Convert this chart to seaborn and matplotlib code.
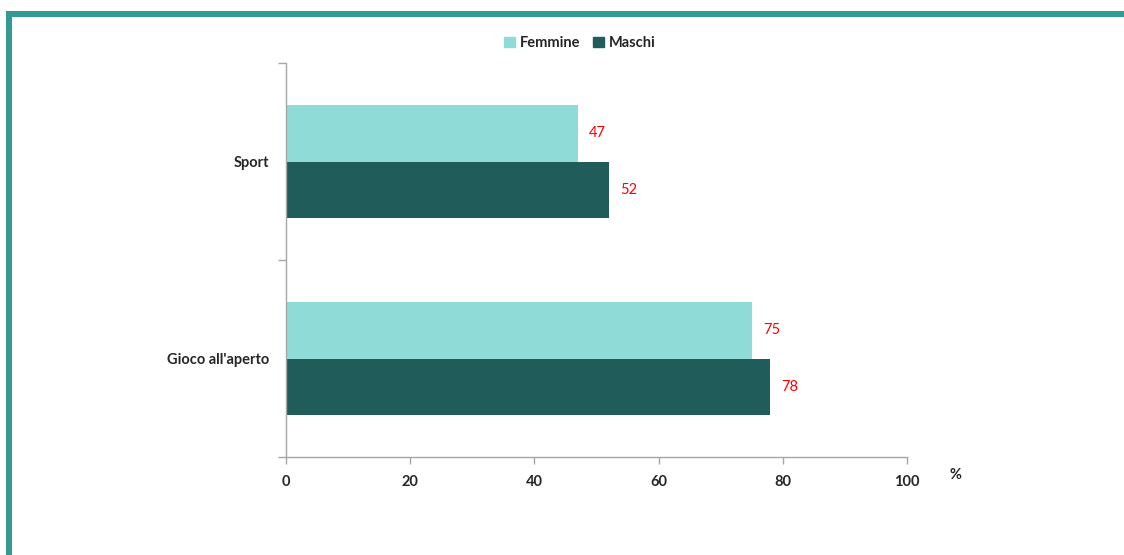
import seaborn as sns
import pandas as pd
import matplotlib.pyplot as plt
import matplotlib.patches as patches

categories = ["Sport", "Gioco all'aperto"]
femmine = [47, 75]
maschi = [52, 78]
series = ["Femmine", "Maschi"]
colors = ["#8fdbd8", "#1f5c5a"]
xticks = [0, 20, 40, 60, 80, 100]

df = pd.DataFrame({
    "cat": categories * 2,
    "val": femmine + maschi,
    "sesso": [series[0]] * 2 + [series[1]] * 2,
})

sns.set_theme(style="white")
plt.rcParams["font.family"] = ["Lato", "DejaVu Sans"]

fig = plt.figure(figsize=(11.24, 5.55), dpi=100)
ax = fig.add_axes([286 / 1124, 1 - 457 / 555, (907 - 286) / 1124, (457 - 63) / 555])

sns.barplot(data=df, y="cat", x="val", hue="sesso", orient="h",
            palette=colors, width=0.57, ax=ax, legend=False,
            saturation=1, edgecolor="none")

for cont in ax.containers:
    ax.bar_label(cont, padding=8, color="red", fontsize=10.5)

ax.set_xlim(0, 100)
ax.set_ylim(1.5, -0.5)
ax.set_xticks(xticks)
ax.set_xticklabels([str(t) for t in xticks], fontweight="bold", fontsize=10.5)
ax.set_yticks([0, 1])
ax.set_yticklabels(categories, fontweight="bold", fontsize=10.5)
ax.tick_params(axis="y", length=0, pad=12)
ax.set_yticks([-0.5, 0.5, 1.5], minor=True)
ax.tick_params(axis="y", which="minor", left=True, length=6, color="#a6a6a6", width=1)
ax.tick_params(axis="x", bottom=True, length=5, color="#a6a6a6", width=1, pad=8)
ax.set_xlabel("")
ax.set_ylabel("")
for s in ["top", "right"]:
    ax.spines[s].set_visible(False)
for s in ["left", "bottom"]:
    ax.spines[s].set_color("#a6a6a6")
    ax.spines[s].set_linewidth(1)

fig.text(955 / 1124, 1 - 475 / 555, "%", fontweight="bold", fontsize=10.5,
         ha="center", va="center")

handles = [patches.Patch(color=c, label=l) for c, l in zip(colors, series)]
fig.legend(handles=handles, loc="center", bbox_to_anchor=(580 / 1124, 1 - 43 / 555),
           ncol=2, frameon=False, handlelength=0.7, handleheight=0.7,
           handletextpad=0.35, columnspacing=0.9, prop={"weight": "bold", "size": 10.5})

# teal frame on top and left
border = "#339a93"
fig.add_artist(patches.Rectangle((6 / 1124, 1 - 17 / 555), 1 - 6 / 1124, 6 / 555,
                                 transform=fig.transFigure, color=border, lw=0))
fig.add_artist(patches.Rectangle((6 / 1124, 0), 6 / 1124, 1 - 11 / 555,
                                 transform=fig.transFigure, color=border, lw=0))

fig.savefig("out.png", dpi=100)
